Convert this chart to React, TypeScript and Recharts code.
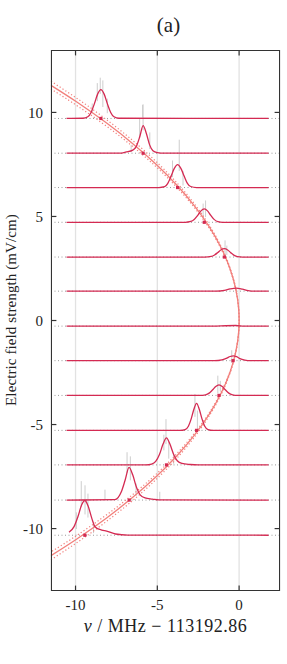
import React from 'react';
import { ComposedChart, Line, Scatter, XAxis, YAxis, CartesianGrid, ReferenceLine, ErrorBar } from 'recharts';

const xTicks = [-10, -5, 0];
const yTicks = [-10, -5, 0, 5, 10];
const xDomain = [-11.5, 2.5];
const yDomain = [-13, 13];

// field strength of each scan (mV/cm), top to bottom
const fields = [9.71, 8.04, 6.39, 4.72, 3.05, 1.41, -0.27, -1.93, -3.6, -5.28, -6.94, -8.63, -10.32];

// smoothed spectra, [nu, height above the scan's baseline]
const spectra: number[][][] = [
  [[-10.55, 0], [-9.55, 0.01], [-9.25, 0.08], [-9.05, 0.29], [-8.85, 0.7], [-8.65, 1.17], [-8.45, 1.39], [-8.25, 1.17], [-8.05, 0.7], [-7.85, 0.29], [-7.65, 0.08], [-7.35, 0.01], [1.8, 0]],
  [[-10.55, 0], [-7.3, 0], [-6.9, 0.06], [-6.5, 0.15], [-6.27, 0.35], [-6.07, 0.8], [-5.87, 1.33], [-5.67, 0.95], [-5.47, 0.4], [-5.27, 0.12], [-5.0, 0.03], [-4.6, 0], [1.8, 0]],
  [[-10.55, 0], [-4.9, 0], [-4.55, 0.04], [-4.36, 0.2], [-4.16, 0.55], [-3.96, 0.92], [-3.76, 1.1], [-3.56, 0.92], [-3.36, 0.55], [-3.16, 0.2], [-2.96, 0.05], [-2.6, 0], [1.8, 0]],
  [[-10.55, 0], [-3.3, 0], [-2.95, 0.04], [-2.73, 0.15], [-2.53, 0.33], [-2.33, 0.55], [-2.13, 0.64], [-1.93, 0.55], [-1.73, 0.33], [-1.53, 0.14], [-1.3, 0.03], [-1.0, 0], [1.8, 0]],
  [[-10.55, 0], [-2.1, 0], [-1.7, 0.03], [-1.5, 0.1], [-1.3, 0.22], [-1.1, 0.35], [-0.9, 0.4], [-0.7, 0.34], [-0.5, 0.2], [-0.3, 0.08], [-0.1, 0.02], [0.2, 0], [1.8, 0]],
  [[-10.55, 0], [-1.4, 0], [-0.9, 0.04], [-0.55, 0.11], [-0.18, 0.15], [0.2, 0.1], [0.55, 0.03], [0.9, 0], [1.8, 0]],
  [[-10.55, 0], [-2.0, 0], [-0.2, 0.03], [0.3, 0], [1.8, 0]],
  [[-10.55, 0], [-1.5, 0], [-1.05, 0.04], [-0.75, 0.12], [-0.55, 0.2], [-0.35, 0.23], [-0.15, 0.19], [0.05, 0.1], [0.35, 0.03], [0.7, 0], [1.8, 0]],
  [[-10.55, 0], [-2.4, 0], [-2.05, 0.03], [-1.83, 0.11], [-1.63, 0.26], [-1.43, 0.43], [-1.23, 0.51], [-1.03, 0.43], [-0.83, 0.26], [-0.63, 0.11], [-0.4, 0.03], [-0.1, 0], [1.8, 0]],
  [[-10.55, 0], [-3.6, 0], [-3.3, 0.04], [-3.1, 0.2], [-2.93, 0.55], [-2.77, 1.0], [-2.6, 1.3], [-2.43, 1.0], [-2.27, 0.55], [-2.1, 0.2], [-1.9, 0.04], [-1.6, 0], [1.8, 0]],
  [[-10.55, 0], [-5.7, 0], [-5.35, 0.04], [-5.1, 0.17], [-4.87, 0.5], [-4.65, 1.0], [-4.44, 1.3], [-4.23, 1.0], [-4.0, 0.5], [-3.78, 0.2], [-3.5, 0.07], [-3.0, 0.02], [-2.5, 0], [1.8, 0]],
  [[-10.55, 0], [-7.6, 0.02], [-7.4, 0.12], [-7.2, 0.4], [-6.97, 0.95], [-6.73, 1.57], [-6.5, 1.2], [-6.27, 0.6], [-6.05, 0.25], [-5.75, 0.1], [-5.3, 0.05], [-4.9, 0.01], [1.8, 0]],
  [[-10.4, 0.14], [-10.1, 0.4], [-9.85, 0.9], [-9.63, 1.45], [-9.43, 1.67], [-9.23, 1.4], [-9.0, 0.8], [-8.8, 0.4], [-8.4, 0.25], [-8.1, 0.2], [-7.55, 0.06], [-6.8, 0.01], [1.8, 0]],
];

// fitted line centres (null = no line found)
const centres = [-8.45, -5.87, -3.76, -2.13, -0.9, null, null, -0.37, -1.23, -2.6, -4.44, -6.72, -9.43];

// raw data scatter, [nu, low, high] above baseline
const rawBars: number[][][] = [
  [[-8.98, 0.25, 0.72], [-8.67, 0.83, 1.7], [-8.49, 1.18, 1.96], [-8.33, 0.55, 1.83], [-8.06, 0.25, 0.95], [-5.9, 0.05, 0.65]],
  [[-6.6, 0.05, 0.4], [-6.08, 0.75, 1.65], [-5.87, 1.1, 2.35], [-5.46, 0.2, 1.0]],
  [[-4.07, 0.5, 1.3], [-3.66, 0.8, 2.3], [-3.43, 0.1, 0.8]],
  [[-2.2, 0.2, 0.9], [-2.05, 0.25, 1.05]],
  [[-0.86, 0.05, 0.8], [-0.75, 0.1, 0.55]],
  [],
  [],
  [[-0.45, -0.1, 0.5]],
  [[-1.3, 0.1, 0.95], [-1.15, 0.2, 0.7]],
  [[-2.7, 0.65, 1.75], [-2.55, 0.1, 0.95]],
  [[-4.6, 0.7, 1.45], [-4.47, 1.0, 2.2], [-4.3, 0.3, 1.1], [-4.0, 0.05, 0.5]],
  [[-8.2, 0.0, 0.5], [-6.85, 1.3, 2.3], [-6.65, 0.95, 2.1], [-6.3, 0.2, 0.8], [-4.85, 0.0, 0.4]],
  [[-9.95, 0.3, 1.1], [-9.65, 1.35, 2.6], [-9.42, 1.0, 2.4], [-9.24, 0.85, 2.0], [-8.9, 0.1, 0.6]],
];

// quadratic Stark fit and its confidence band, [nu, E], cut at the frame
const fitCurve = [[-11.5, 11.3], [-9.92, 10.5], [-8.12, 9.5], [-6.5, 8.5], [-5.06, 7.5], [-3.8, 6.5], [-2.72, 5.5], [-1.82, 4.5], [-1.1, 3.5], [-0.56, 2.5], [-0.2, 1.5], [-0.02, 0.5], [-0.02, -0.5], [-0.2, -1.5], [-0.56, -2.5], [-1.1, -3.5], [-1.82, -4.5], [-2.72, -5.5], [-3.8, -6.5], [-5.06, -7.5], [-6.5, -8.5], [-8.12, -9.5], [-9.92, -10.5], [-11.5, -11.3]];
const bandOuter = [[-11.5, 11.12], [-10.25, 10.5], [-8.39, 9.5], [-6.72, 8.5], [-5.23, 7.5], [-3.93, 6.5], [-2.81, 5.5], [-1.88, 4.5], [-1.14, 3.5], [-0.58, 2.5], [-0.21, 1.5], [-0.02, 0.5], [-0.02, -0.5], [-0.21, -1.5], [-0.58, -2.5], [-1.14, -3.5], [-1.88, -4.5], [-2.81, -5.5], [-3.93, -6.5], [-5.23, -7.5], [-6.72, -8.5], [-8.39, -9.5], [-10.25, -10.5], [-11.5, -11.12]];
const bandInner = [[-11.5, 11.5], [-9.59, 10.5], [-7.85, 9.5], [-6.28, 8.5], [-4.89, 7.5], [-3.67, 6.5], [-2.63, 5.5], [-1.76, 4.5], [-1.06, 3.5], [-0.54, 2.5], [-0.19, 1.5], [-0.02, 0.5], [-0.02, -0.5], [-0.19, -1.5], [-0.54, -2.5], [-1.06, -3.5], [-1.76, -4.5], [-2.63, -5.5], [-3.67, -6.5], [-4.89, -7.5], [-6.28, -8.5], [-7.85, -9.5], [-9.59, -10.5], [-11.5, -11.5]];

const TRACE = '#d42a52';
const FIT = '#f27f7b';
const INK = '#333';
const FONT = "'Liberation Serif', 'Times New Roman', 'DejaVu Serif', serif";
// inward tick length in data units (about 5 px)
const xTickLen = 0.26;
const yTickLen = 0.33;

const [x0, x1] = xDomain;
const [y0, y1] = yDomain;

const traceData = spectra.map((pts, i) => pts.map(([x, h]) => ({ x, y: fields[i] + h })));
const dotData = centres
  .map((c, i) => (c === null ? null : { x: c, y: fields[i] }))
  .filter((d) => d !== null);
const barData = rawBars.flatMap((list, i) =>
  list.map(([x, lo, hi]) => ({ x, y: fields[i] + (lo + hi) / 2, err: (hi - lo) / 2 }))
);
const toXY = (pts: number[][]) => pts.map(([x, y]) => ({ x, y }));

// inward ticks on all four sides, drawn as one-sided error bars
const ticksH = [
  ...yTicks.map((t) => ({ x: x0, y: t, err: [0, yTickLen] })),
  ...yTicks.map((t) => ({ x: x1, y: t, err: [yTickLen, 0] })),
];
const ticksV = [
  ...xTicks.map((t) => ({ x: t, y: y0, err: [0, xTickLen] })),
  ...xTicks.map((t) => ({ x: t, y: y1, err: [xTickLen, 0] })),
];

const tickStyle = { fontFamily: FONT, fontSize: 15, fill: '#222' };
const noShape = () => <g />;

export default function App() {
  return (
    <div style={{ position: 'absolute', left: 0, top: 0, width: 287, height: 664, background: '#fff', fontFamily: FONT }}>
      <div style={{ position: 'absolute', left: 54, width: 229, top: 13, textAlign: 'center', fontSize: 21, color: '#222' }}>
        (a)
      </div>
      <ComposedChart width={287} height={664} margin={{ top: 50, right: 7, bottom: 0, left: 0 }}>
        <CartesianGrid xAxisId="b" yAxisId="l" horizontal={false} stroke="#e2e2e2" strokeWidth={1.3} />
        <XAxis xAxisId="b" dataKey="x" type="number" domain={xDomain} ticks={xTicks}
          height={73} tickLine={false} axisLine={false} tick={tickStyle} />
        <YAxis yAxisId="l" dataKey="y" type="number" domain={yDomain} ticks={yTicks}
          width={51} tickLine={false} axisLine={false} tick={tickStyle} />

        {fields.map((f) => (
          <ReferenceLine key={'base' + f} xAxisId="b" yAxisId="l" y={f} stroke="#9a9a9a" strokeDasharray="1 2.5" />
        ))}

        <Scatter data={barData} dataKey="y" xAxisId="b" yAxisId="l" shape={noShape} isAnimationActive={false}>
          <ErrorBar dataKey="err" direction="y" width={0} stroke="#cdcdcd" strokeWidth={1} isAnimationActive={false} />
        </Scatter>

        <Line data={toXY(bandOuter)} dataKey="y" xAxisId="b" yAxisId="l" type="natural" stroke={FIT} strokeWidth={1.2}
          strokeDasharray="1.2 2.2" dot={false} isAnimationActive={false} />
        <Line data={toXY(bandInner)} dataKey="y" xAxisId="b" yAxisId="l" type="natural" stroke={FIT} strokeWidth={1.2}
          strokeDasharray="1.2 2.2" dot={false} isAnimationActive={false} />
        <Line data={toXY(fitCurve)} dataKey="y" xAxisId="b" yAxisId="l" type="natural" stroke={FIT} strokeWidth={1.3}
          dot={false} isAnimationActive={false} />

        {traceData.map((d, i) => (
          <Line key={'scan' + i} data={d} dataKey="y" xAxisId="b" yAxisId="l" type="monotone" stroke={TRACE}
            strokeWidth={1.3} dot={false} isAnimationActive={false} />
        ))}

        <Scatter data={dotData} dataKey="y" xAxisId="b" yAxisId="l" fill={TRACE} isAnimationActive={false}
          shape={(p: any) => <rect x={p.cx - 1.6} y={p.cy - 1.6} width={3.2} height={3.2} fill={TRACE} />} />

        <Scatter data={ticksH} dataKey="y" xAxisId="b" yAxisId="l" shape={noShape} isAnimationActive={false}>
          <ErrorBar dataKey="err" direction="x" width={0} stroke={INK} strokeWidth={1.2} isAnimationActive={false} />
        </Scatter>
        <Scatter data={ticksV} dataKey="y" xAxisId="b" yAxisId="l" shape={noShape} isAnimationActive={false}>
          <ErrorBar dataKey="err" direction="y" width={0} stroke={INK} strokeWidth={1.2} isAnimationActive={false} />
        </Scatter>
      </ComposedChart>
      {/* plot box outline */}
      <div style={{ position: 'absolute', left: 51, top: 50, width: 229, height: 541, boxSizing: 'border-box', border: '1px solid #333', pointerEvents: 'none' }} />
      <div style={{ position: 'absolute', left: 51, width: 229, top: 616, textAlign: 'center', fontSize: 18, color: '#222', whiteSpace: 'nowrap', letterSpacing: 0.5 }}>
        <i>ν</i> / MHz − 113192.86
      </div>
      <div style={{ position: 'absolute', left: 11, top: 310, transform: 'translate(-50%, -50%) rotate(-90deg)', fontSize: 15, color: '#222', whiteSpace: 'nowrap', letterSpacing: 0.1 }}>
        Electric field strength (mV/cm)
      </div>
    </div>
  );
}
